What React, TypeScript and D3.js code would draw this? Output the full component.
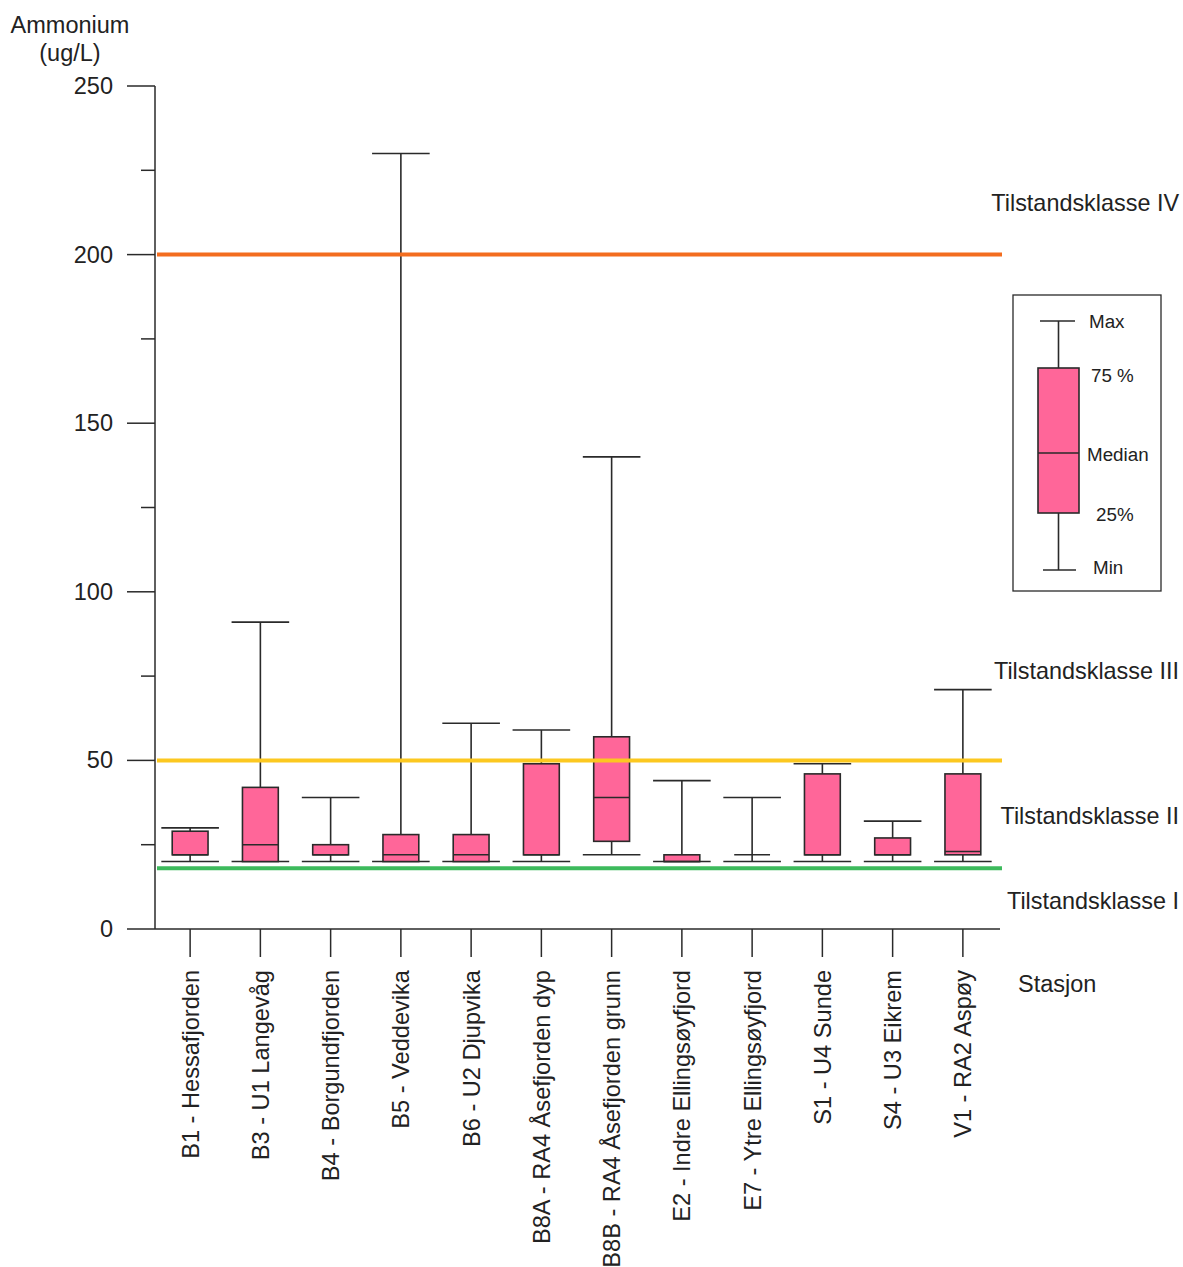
import React from "react";
import * as d3 from "d3";

// Stations along the x axis
const stations = [
  "B1 - Hessafjorden",
  "B3 - U1 Langevåg",
  "B4 - Borgundfjorden",
  "B5 - Veddevika",
  "B6 - U2 Djupvika",
  "B8A - RA4 Åsefjorden dyp",
  "B8B - RA4 Åsefjorden grunn",
  "E2 - Indre Ellingsøyfjord",
  "E7 - Ytre Ellingsøyfjord",
  "S1 - U4 Sunde",
  "S4 - U3 Eikrem",
  "V1 - RA2 Aspøy",
];

// Ammonium (ug/L) summary statistics per station
const minValues = [20, 20, 20, 20, 20, 20, 22, 20, 20, 20, 20, 20];
const q1Values = [22, 20, 22, 20, 20, 22, 26, 20, 22, 22, 22, 22];
const medianValues = [22, 25, 22, 22, 22, 22, 39, 20, 22, 22, 22, 23];
const q3Values = [29, 42, 25, 28, 28, 49, 57, 22, 22, 46, 27, 46];
const maxValues = [30, 91, 39, 230, 61, 59, 140, 44, 39, 49, 32, 71];

// Class boundaries (Tilstandsklasse limits)
const thresholdValues = [200, 50, 18];
const thresholdColors = ["#f36d1f", "#fcc820", "#3dba5c"];

// Class labels and the value at which each is written
const classLabels = ["Tilstandsklasse IV", "Tilstandsklasse III", "Tilstandsklasse II", "Tilstandsklasse I"];
const classLabelValues = [215.3, 76.5, 33.5, 8.3];

// Y axis ticks
const majorTicks = [0, 50, 100, 150, 200, 250];
const minorTicks = [25, 75, 125, 175, 225];

// Legend entries
const legendLabels = ["Max", "75 %", "Median", "25%", "Min"];

const FONT = "'Liberation Sans', Arial, sans-serif";
const TEXT = "#222";
const STROKE = "#2a2a2a";
const FILL = "#ff6699";

export default function App() {
  const width = 1183;
  const height = 1267;
  const left = 155;
  const right = 998;
  const top = 86;
  const bottom = 929;

  const y = d3.scaleLinear().domain([0, 250]).range([bottom, top]);
  const x = d3.scaleBand<string>().domain(stations).range([left, right]);
  const bw = x.bandwidth();
  const boxW = bw * 0.51;
  const capW = bw * 0.82;
  const cx = (s: string) => (x(s) as number) + bw / 2;

  // Legend box plot (schematic)
  const lg = { x: 1058.5, max: 321, q3: 368, med: 453, q1: 513, min: 570 };
  const legendY = [321, 375, 454, 514, 567];
  const legendX = [1089, 1091, 1087, 1096, 1093];

  return (
    <svg
      width={width}
      height={height}
      viewBox={`0 0 ${width} ${height}`}
      style={{ position: "absolute", left: 0, top: 0, background: "#fff" }}
      fontFamily={FONT}
    >
      {/* axis title */}
      <text x={70} y={25} textAnchor="middle" dominantBaseline="central" fontSize={23.5} fill={TEXT}>
        Ammonium
      </text>
      <text x={70} y={53} textAnchor="middle" dominantBaseline="central" fontSize={23.5} fill={TEXT}>
        (ug/L)
      </text>

      {/* y axis */}
      <line x1={left} x2={left} y1={top} y2={bottom} stroke={STROKE} strokeWidth={1.5} />
      {majorTicks.map((t) => (
        <g key={"M" + t}>
          <line x1={left - 28} x2={left} y1={y(t)} y2={y(t)} stroke={STROKE} strokeWidth={1.5} />
          <text x={113} y={y(t)} textAnchor="end" dominantBaseline="central" fontSize={23.5} fill={TEXT}>
            {t}
          </text>
        </g>
      ))}
      {minorTicks.map((t) => (
        <line key={"m" + t} x1={left - 14} x2={left} y1={y(t)} y2={y(t)} stroke={STROKE} strokeWidth={1.5} />
      ))}

      {/* x axis */}
      <line x1={left} x2={right + 2} y1={bottom} y2={bottom} stroke={STROKE} strokeWidth={1.5} />
      {stations.map((s) => (
        <g key={"x" + s}>
          <line x1={cx(s)} x2={cx(s)} y1={bottom} y2={bottom + 28} stroke={STROKE} strokeWidth={1.5} />
          <text
            transform={`translate(${cx(s)},970) rotate(-90)`}
            textAnchor="end"
            dy="0.36em"
            fontSize={23.6}
            fill={TEXT}
          >
            {s}
          </text>
        </g>
      ))}
      <text x={1018} y={984} dominantBaseline="central" fontSize={23.5} fill={TEXT}>
        Stasjon
      </text>

      {/* box plots */}
      {stations.map((s, i) => {
        const c = cx(s);
        const yMin = y(minValues[i]);
        const yMax = y(maxValues[i]);
        const yQ1 = y(q1Values[i]);
        const yQ3 = y(q3Values[i]);
        const yMed = y(medianValues[i]);
        return (
          <g key={"b" + s} stroke={STROKE} strokeWidth={1.6}>
            <line x1={c} x2={c} y1={yMax} y2={yQ3} />
            <line x1={c} x2={c} y1={yQ1} y2={yMin} />
            <line x1={c - capW / 2} x2={c + capW / 2} y1={yMax} y2={yMax} />
            <line x1={c - capW / 2} x2={c + capW / 2} y1={yMin} y2={yMin} />
            <rect x={c - boxW / 2} y={yQ3} width={boxW} height={Math.max(0, yQ1 - yQ3)} fill={FILL} />
            <line x1={c - boxW / 2} x2={c + boxW / 2} y1={yMed} y2={yMed} />
          </g>
        );
      })}

      {/* class boundary lines */}
      {thresholdValues.map((v, i) => (
        <line
          key={"t" + v}
          x1={left + 2}
          x2={1002}
          y1={y(v)}
          y2={y(v)}
          stroke={thresholdColors[i]}
          strokeWidth={4}
        />
      ))}
      {classLabels.map((l, i) => (
        <text
          key={l}
          x={1179}
          y={y(classLabelValues[i])}
          textAnchor="end"
          dominantBaseline="central"
          fontSize={23.4}
          fill={TEXT}
        >
          {l}
        </text>
      ))}

      {/* legend */}
      <rect x={1013} y={295} width={148} height={296} fill="#fff" stroke={STROKE} strokeWidth={1.3} />
      <g stroke={STROKE} strokeWidth={1.6}>
        <line x1={lg.x} x2={lg.x} y1={lg.max} y2={lg.q3} />
        <line x1={lg.x} x2={lg.x} y1={lg.q1} y2={lg.min} />
        <line x1={1040} x2={1075} y1={lg.max} y2={lg.max} />
        <line x1={1043} x2={1076} y1={lg.min} y2={lg.min} />
        <rect x={1038} y={lg.q3} width={41} height={lg.q1 - lg.q3} fill={FILL} />
        <line x1={1038} x2={1079} y1={lg.med} y2={lg.med} />
      </g>
      {legendLabels.map((l, i) => (
        <text key={l} x={legendX[i]} y={legendY[i]} dominantBaseline="central" fontSize={18.8} fill={TEXT}>
          {l}
        </text>
      ))}
    </svg>
  );
}
